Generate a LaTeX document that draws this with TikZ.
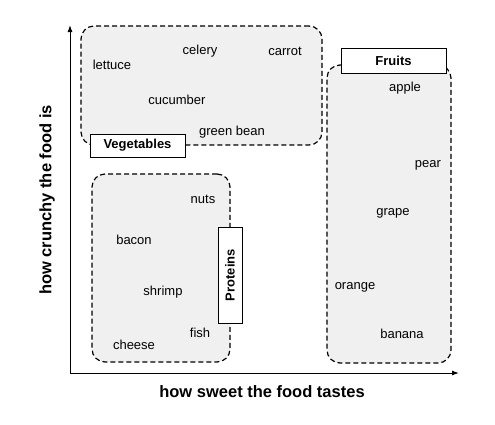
\documentclass[tikz,border=0pt]{standalone}
\usepackage{fontspec}
\setmainfont{Liberation Sans}
\usetikzlibrary{arrows.meta}
\definecolor{areagray}{HTML}{F0F0F0}

\begin{document}
\begin{tikzpicture}[x=1pt,y=-1pt,
    group/.style={draw, dashed, dash pattern=on 5pt off 3pt, line width=1.2pt, fill=areagray, rounded corners=13pt, inner sep=0pt},
    tag/.style={draw, line width=1pt, fill=white, font=\fontsize{13}{15}\selectfont\bfseries, inner sep=0pt},
    food/.style={font=\fontsize{13}{15}\selectfont},
    axislabel/.style={font=\fontsize{16.5}{19}\selectfont\bfseries}]
  \useasboundingbox (0,0) rectangle (495,424);
  % axes
  \coordinate (origin) at (70,373);
  \coordinate (ytip) at (70,25);
  \coordinate (xtip) at (459,373);
  \draw[line width=1pt, -{Latex[length=7pt,width=5pt]}] (origin) -- (ytip);
  \draw[line width=1pt, -{Latex[length=7pt,width=5pt]}] (origin) -- (xtip);
  \node[axislabel, rotate=90] (ylabel) at (47,200) {how crunchy the food is};
  \node[axislabel] (xlabel) at (262,392) {how sweet the food tastes};

  % vegetables
  \node[group, minimum width=241pt, minimum height=119pt] (vegarea) at (201.5,85.5) {};
  \node[food] (celery) at (200,51) {celery};
  \node[food] (carrot) at (285,51) {carrot};
  \node[food] (lettuce) at (112,65) {lettuce};
  \node[food] (cucumber) at (177,100) {cucumber};
  \node[food] (greenbean) at (232,132) {green bean};
  \node[tag, minimum width=95pt, minimum height=23pt] (vegtag) at (137.5,145.5) {Vegetables};

  % fruits
  \node[group, minimum width=124pt, minimum height=298pt] (fruitarea) at (389,214) {};
  \node[food] (apple) at (405,88) {apple};
  \node[food] (pear) at (428,165) {pear};
  \node[food] (grape) at (393,213) {grape};
  \node[food] (orange) at (355,287) {orange};
  \node[food] (banana) at (402,334) {banana};
  \node[tag, minimum width=105pt, minimum height=25pt] (fruittag) at (393.5,60.5) {Fruits};

  % proteins
  \node[group, minimum width=138pt, minimum height=188pt] (protarea) at (161,268) {};
  \node[food] (nuts) at (203,199) {nuts};
  \node[food] (bacon) at (134,240) {bacon};
  \node[food] (shrimp) at (163,292) {shrimp};
  \node[food] (fish) at (200,333) {fish};
  \node[food] (cheese) at (134,345) {cheese};
  \node[tag, rotate=90, minimum width=96pt, minimum height=24pt] (prottag) at (230,275) {Proteins};
\end{tikzpicture}
\end{document}
